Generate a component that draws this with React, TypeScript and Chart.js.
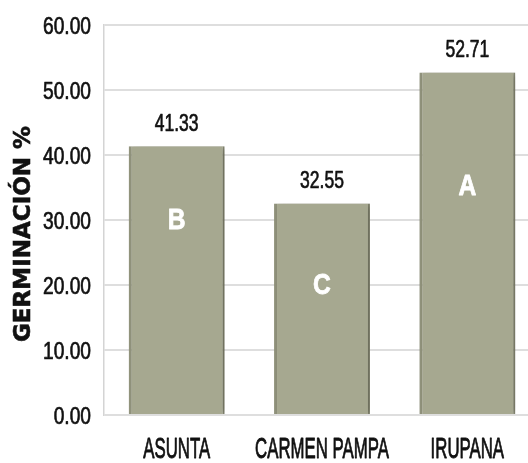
import React, { useEffect, useRef } from "react";
import { Chart, registerables } from "chart.js";

Chart.register(...registerables);

const categories = ["ASUNTA", "CARMEN PAMPA", "IRUPANA"];
const germination = [41.33, 32.55, 52.71];
const groupLetters = ["B", "C", "A"];
const letterLevels = [30.3, 20.3, 35.5];
const yTicks = [0, 10, 20, 30, 40, 50, 60];
const axisTitle = "GERMINACIÓN %";

const SANS = "'Liberation Sans', Arial, sans-serif";
const BAR_COLOR = "#a6a890";

function drawText(
  ctx: CanvasRenderingContext2D,
  text: string,
  x: number,
  y: number,
  font: string,
  sx: number,
  align: CanvasTextAlign,
  color: string,
  stroke = 0
) {
  ctx.save();
  ctx.translate(x, y);
  ctx.scale(sx, 1);
  ctx.font = font;
  ctx.fillStyle = color;
  ctx.textAlign = align;
  ctx.textBaseline = "alphabetic";
  ctx.fillText(text, 0, 0);
  if (stroke > 0) {
    ctx.strokeStyle = color;
    ctx.lineWidth = stroke;
    ctx.lineJoin = "round";
    ctx.strokeText(text, 0, 0);
  }
  ctx.restore();
}

const shadowPlugin = {
  id: "barShadow",
  beforeDatasetsDraw(chart: any) {
    const ctx = chart.ctx;
    ctx.save();
    ctx.shadowColor = "rgba(40,40,30,0.45)";
    ctx.shadowBlur = 7;
    ctx.shadowOffsetX = 3;
    ctx.shadowOffsetY = 1;
  },
  afterDatasetsDraw(chart: any) {
    chart.ctx.restore();
  },
};

const textPlugin = {
  id: "condensedText",
  afterDraw(chart: any) {
    const ctx = chart.ctx as CanvasRenderingContext2D;
    const meta = chart.getDatasetMeta(0);
    const xScale = chart.scales.x;
    const yScale = chart.scales.y;

    // y tick labels
    yScale.ticks.forEach((t: any) => {
      const y = yScale.getPixelForValue(t.value);
      drawText(ctx, Number(t.value).toFixed(2), xScale.left - 13, y + 8.5, `24px ${SANS}`, 0.8, "right", "#111", 0.7);
    });

    // x tick labels
    chart.data.labels.forEach((lab: string, i: number) => {
      const x = xScale.getPixelForTick(i);
      drawText(ctx, lab, x, yScale.bottom + 43, `30px ${SANS}`, 0.56, "center", "#111", 0.9);
    });

    // value labels and group letters
    meta.data.forEach((bar: any, i: number) => {
      drawText(ctx, germination[i].toFixed(2), bar.x, bar.y - 15, `24px ${SANS}`, 0.73, "center", "#111", 0.7);
      drawText(
        ctx,
        groupLetters[i],
        bar.x,
        yScale.getPixelForValue(letterLevels[i]) + 10.5,
        `bold 29px ${SANS}`,
        0.85,
        "center",
        "#ffffff",
        0.8
      );
    });

    // axis title
    ctx.save();
    ctx.translate(24, (yScale.top + yScale.bottom) / 2 + 14);
    ctx.rotate(-Math.PI / 2);
    ctx.fillStyle = "#111";
    ctx.font = "bold 23px 'DejaVu Sans', sans-serif";
    ctx.textAlign = "center";
    ctx.textBaseline = "middle";
    ctx.fillText(axisTitle, 0, 0);
    ctx.strokeStyle = "#111";
    ctx.lineWidth = 0.6;
    ctx.strokeText(axisTitle, 0, 0);
    ctx.restore();
  },
};

export default function App() {
  const ref = useRef<HTMLCanvasElement>(null);
  useEffect(() => {
    if (!ref.current) return;
    const chart = new Chart(ref.current, {
      type: "bar",
      data: {
        labels: categories,
        datasets: [
          {
            data: germination,
            backgroundColor: BAR_COLOR,
            borderColor: "#94967f",
            borderWidth: { left: 3, right: 2, top: 0, bottom: 0 },
            borderSkipped: false,
            barPercentage: 0.66,
            categoryPercentage: 1,
          },
        ],
      },
      options: {
        animation: false,
        responsive: false,
        devicePixelRatio: 1,
        layout: { padding: { top: 25, right: 0, left: 0, bottom: 0 } },
        plugins: { legend: { display: false }, tooltip: { enabled: false } },
        scales: {
          x: {
            grid: { display: false },
            border: { display: false },
            ticks: { display: false },
            afterFit: (s: any) => {
              s.height = 48;
            },
          },
          y: {
            min: 0,
            max: 60,
            afterBuildTicks: (s: any) => {
              s.ticks = yTicks.map((v) => ({ value: v }));
            },
            grid: { color: "#dedede", lineWidth: 2, drawTicks: false },
            border: { display: true, color: "#d4d4d4", width: 1.5 },
            ticks: { display: false },
            afterFit: (s: any) => {
              s.width = 104;
            },
          },
        },
      },
      plugins: [shadowPlugin, textPlugin],
    });
    return () => chart.destroy();
  }, []);
  return (
    <div
      style={{
        position: "absolute",
        left: 0,
        top: 0,
        width: 528,
        height: 463,
        overflow: "hidden",
        background: "#fff",
      }}
    >
      <canvas ref={ref} width={540} height={463} style={{ display: "block" }} />
    </div>
  );
}
